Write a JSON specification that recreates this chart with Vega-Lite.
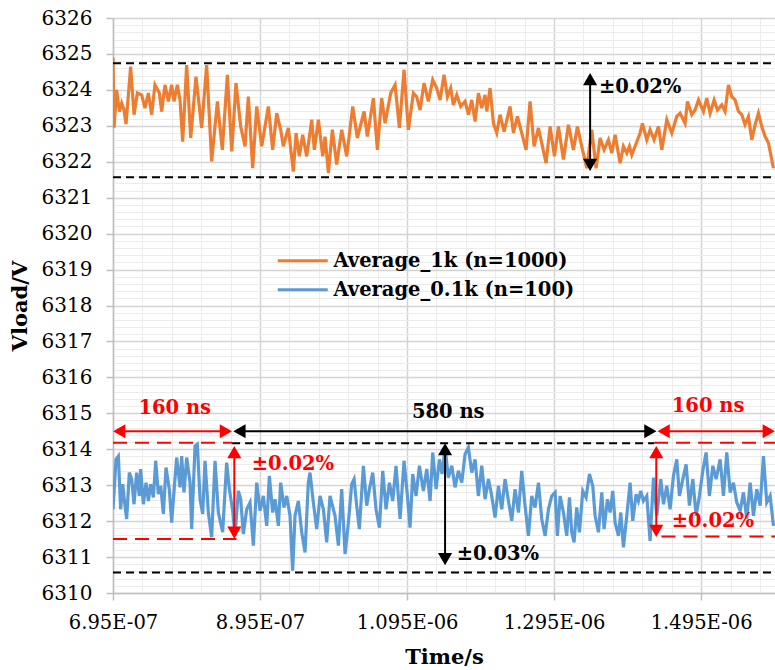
{
"$schema":"https://vega.github.io/schema/vega-lite/v6.json",
"width":662,"height":575,
"autosize":{"type":"none"},
"padding":{"left":113,"top":18,"right":0,"bottom":77},
"background":"white",
"config":{"view":{"stroke":null},"font":"DejaVu Serif"},
"resolve":{"axis":{"x":"independent","y":"independent"}},
"datasets":{
"avg1k":[
{"t":695e-9,"v":6324.9},{"t":696.4e-9,"v":6322.95},{"t":700e-9,"v":6324.0},{"t":703.6e-9,"v":6323.4},{"t":706.8e-9,"v":6323.63},{"t":710e-9,"v":6323.44},{"t":712.7e-9,"v":6323.05},{"t":719e-9,"v":6324.65},{"t":723.6e-9,"v":6323.31},{"t":728.1e-9,"v":6323.91},{"t":734e-9,"v":6323.86},{"t":738.5e-9,"v":6323.49},{"t":743.1e-9,"v":6323.91},{"t":747.6e-9,"v":6323.31},{"t":752.1e-9,"v":6324.14},{"t":758e-9,"v":6323.91},{"t":761.2e-9,"v":6323.4},{"t":765.7e-9,"v":6324.14},{"t":770.3e-9,"v":6323.68},{"t":774.8e-9,"v":6324.14},{"t":778e-9,"v":6323.68},{"t":782.5e-9,"v":6324.14},{"t":786.2e-9,"v":6323.72},{"t":789.8e-9,"v":6322.56},{"t":795.2e-9,"v":6324.69},{"t":800.7e-9,"v":6322.66},{"t":807.9e-9,"v":6324.37},{"t":815.6e-9,"v":6322.94},{"t":822.4e-9,"v":6324.69},{"t":829.2e-9,"v":6322.01},{"t":837e-9,"v":6323.68},{"t":843.7e-9,"v":6322.33},{"t":850.6e-9,"v":6324.42},{"t":856.5e-9,"v":6322.29},{"t":862.3e-9,"v":6324.19},{"t":868.7e-9,"v":6322.98},{"t":874.6e-9,"v":6322.43},{"t":879.1e-9,"v":6323.81},{"t":885e-9,"v":6321.82},{"t":890.5e-9,"v":6323.54},{"t":897.3e-9,"v":6322.43},{"t":906.3e-9,"v":6323.54},{"t":912.2e-9,"v":6322.33},{"t":917.7e-9,"v":6323.35},{"t":923.1e-9,"v":6322.89},{"t":926.7e-9,"v":6322.43},{"t":933.5e-9,"v":6322.94},{"t":940.3e-9,"v":6321.73},{"t":944e-9,"v":6322.8},{"t":948.5e-9,"v":6322.15},{"t":953e-9,"v":6322.75},{"t":958.5e-9,"v":6322.15},{"t":965.3e-9,"v":6323.17},{"t":968.9e-9,"v":6322.33},{"t":974.4e-9,"v":6323.17},{"t":980.3e-9,"v":6322.15},{"t":983.4e-9,"v":6322.7},{"t":988e-9,"v":6321.69},{"t":993.4e-9,"v":6322.89},{"t":999.3e-9,"v":6321.92},{"t":1006.1e-9,"v":6322.89},{"t":1012.9e-9,"v":6322.15},{"t":1021.1e-9,"v":6323.54},{"t":1027.4e-9,"v":6322.66},{"t":1032e-9,"v":6323.03},{"t":1036.5e-9,"v":6323.4},{"t":1041e-9,"v":6322.7},{"t":1049.2e-9,"v":6323.77},{"t":1054.6e-9,"v":6322.33},{"t":1060.5e-9,"v":6323.77},{"t":1065.1e-9,"v":6323.07},{"t":1072.8e-9,"v":6323.91},{"t":1078.7e-9,"v":6324.14},{"t":1084.6e-9,"v":6322.94},{"t":1090.9e-9,"v":6324.56},{"t":1096.8e-9,"v":6322.89},{"t":1103.6e-9,"v":6323.91},{"t":1108.1e-9,"v":6323.81},{"t":1112.7e-9,"v":6323.44},{"t":1118.1e-9,"v":6324.19},{"t":1124e-9,"v":6323.68},{"t":1129.9e-9,"v":6324.28},{"t":1135.3e-9,"v":6324.05},{"t":1139.9e-9,"v":6323.72},{"t":1145.3e-9,"v":6324.42},{"t":1149.9e-9,"v":6323.81},{"t":1154.4e-9,"v":6324.05},{"t":1158e-9,"v":6323.58},{"t":1162.6e-9,"v":6323.86},{"t":1168e-9,"v":6323.54},{"t":1173.9e-9,"v":6323.68},{"t":1178.5e-9,"v":6323.31},{"t":1183e-9,"v":6323.72},{"t":1187.5e-9,"v":6323.12},{"t":1192.1e-9,"v":6323.91},{"t":1196.6e-9,"v":6323.49},{"t":1201.1e-9,"v":6323.86},{"t":1203.4e-9,"v":6323.4},{"t":1207.9e-9,"v":6324.05},{"t":1212.5e-9,"v":6323.07},{"t":1217e-9,"v":6322.8},{"t":1221.5e-9,"v":6323.31},{"t":1227e-9,"v":6322.84},{"t":1235.1e-9,"v":6323.54},{"t":1239.7e-9,"v":6322.8},{"t":1245.1e-9,"v":6323.26},{"t":1251e-9,"v":6322.8},{"t":1256.9e-9,"v":6322.33},{"t":1262.3e-9,"v":6323.68},{"t":1267.8e-9,"v":6322.43},{"t":1273.7e-9,"v":6322.94},{"t":1278.2e-9,"v":6322.52},{"t":1284.1e-9,"v":6321.96},{"t":1289.6e-9,"v":6322.98},{"t":1295.5e-9,"v":6322.15},{"t":1300.9e-9,"v":6322.98},{"t":1307.7e-9,"v":6322.06},{"t":1314.5e-9,"v":6323.03},{"t":1321.3e-9,"v":6322.33},{"t":1326.7e-9,"v":6322.98},{"t":1332.6e-9,"v":6322.43},{"t":1339.4e-9,"v":6321.82},{"t":1346.2e-9,"v":6322.89},{"t":1352.1e-9,"v":6321.82},{"t":1357.6e-9,"v":6322.66},{"t":1363e-9,"v":6322.33},{"t":1368.9e-9,"v":6322.61},{"t":1373.5e-9,"v":6322.24},{"t":1378e-9,"v":6322.75},{"t":1384.8e-9,"v":6321.96},{"t":1389.3e-9,"v":6322.43},{"t":1393.9e-9,"v":6322.24},{"t":1397.5e-9,"v":6322.43},{"t":1400.7e-9,"v":6322.19},{"t":1405.2e-9,"v":6322.43},{"t":1412e-9,"v":6322.8},{"t":1415.2e-9,"v":6323.07},{"t":1421.1e-9,"v":6322.61},{"t":1425.6e-9,"v":6322.89},{"t":1431e-9,"v":6322.61},{"t":1437e-9,"v":6322.98},{"t":1441.5e-9,"v":6322.33},{"t":1448.3e-9,"v":6323.17},{"t":1455.1e-9,"v":6322.8},{"t":1461.9e-9,"v":6323.26},{"t":1466.4e-9,"v":6323.35},{"t":1473.2e-9,"v":6323.07},{"t":1476.4e-9,"v":6323.68},{"t":1482.3e-9,"v":6323.31},{"t":1486.8e-9,"v":6323.44},{"t":1491.4e-9,"v":6323.72},{"t":1498.2e-9,"v":6323.4},{"t":1502.7e-9,"v":6323.77},{"t":1507.2e-9,"v":6323.35},{"t":1512.7e-9,"v":6323.72},{"t":1517.2e-9,"v":6323.44},{"t":1523.1e-9,"v":6323.58},{"t":1527.6e-9,"v":6323.4},{"t":1532.2e-9,"v":6324.14},{"t":1536.7e-9,"v":6323.81},{"t":1541.2e-9,"v":6323.72},{"t":1545.8e-9,"v":6323.4},{"t":1550.3e-9,"v":6323.31},{"t":1554.8e-9,"v":6323.03},{"t":1559.4e-9,"v":6323.26},{"t":1563.9e-9,"v":6322.61},{"t":1568.5e-9,"v":6323.03},{"t":1573e-9,"v":6323.35},{"t":1577.5e-9,"v":6322.98},{"t":1582.1e-9,"v":6322.7},{"t":1586.6e-9,"v":6322.52},{"t":1593.4e-9,"v":6321.82}
],
"avg01k":[
{"t":695e-9,"v":6312.33},{"t":699.1e-9,"v":6313.72},{"t":702.3e-9,"v":6313.81},{"t":705.4e-9,"v":6312.33},{"t":708.2e-9,"v":6313.03},{"t":711.3e-9,"v":6312.43},{"t":713.6e-9,"v":6312.06},{"t":717.2e-9,"v":6313.35},{"t":720.4e-9,"v":6313.17},{"t":723.6e-9,"v":6312.47},{"t":727.2e-9,"v":6313.35},{"t":730.8e-9,"v":6312.7},{"t":732.6e-9,"v":6313.45},{"t":736.3e-9,"v":6312.47},{"t":739.9e-9,"v":6313.07},{"t":743.1e-9,"v":6312.56},{"t":746.2e-9,"v":6313.03},{"t":749.9e-9,"v":6312.66},{"t":753.1e-9,"v":6313.68},{"t":756.7e-9,"v":6312.75},{"t":759.9e-9,"v":6312.98},{"t":763.5e-9,"v":6312.2},{"t":767.1e-9,"v":6313.49},{"t":771.6e-9,"v":6312.89},{"t":774.8e-9,"v":6311.96},{"t":778.4e-9,"v":6312.94},{"t":781.6e-9,"v":6313.77},{"t":786.2e-9,"v":6312.94},{"t":788.4e-9,"v":6313.81},{"t":791.6e-9,"v":6312.8},{"t":795.2e-9,"v":6313.77},{"t":799.8e-9,"v":6313.07},{"t":802e-9,"v":6311.78},{"t":806.6e-9,"v":6314.09},{"t":809.7e-9,"v":6314.14},{"t":813.4e-9,"v":6312.61},{"t":817e-9,"v":6312.2},{"t":820.2e-9,"v":6313.68},{"t":824.7e-9,"v":6312.24},{"t":829.2e-9,"v":6311.55},{"t":833.8e-9,"v":6313.68},{"t":838.3e-9,"v":6312.24},{"t":844.2e-9,"v":6311.69},{"t":849.6e-9,"v":6313.63},{"t":853.3e-9,"v":6312.89},{"t":857.8e-9,"v":6312.29},{"t":861e-9,"v":6311.59},{"t":865.5e-9,"v":6312.84},{"t":868.7e-9,"v":6312.61},{"t":872.3e-9,"v":6311.64},{"t":876.9e-9,"v":6312.33},{"t":881.4e-9,"v":6312.52},{"t":885.9e-9,"v":6311.32},{"t":890.5e-9,"v":6313.07},{"t":895e-9,"v":6312.29},{"t":899.5e-9,"v":6312.7},{"t":904.1e-9,"v":6311.87},{"t":907.7e-9,"v":6313.26},{"t":912.2e-9,"v":6312.24},{"t":915.4e-9,"v":6312.61},{"t":919.9e-9,"v":6311.87},{"t":923.1e-9,"v":6313.07},{"t":927.6e-9,"v":6312.38},{"t":931.3e-9,"v":6312.7},{"t":935.8e-9,"v":6312.15},{"t":939.4e-9,"v":6310.62},{"t":942.6e-9,"v":6312.15},{"t":947.1e-9,"v":6312.56},{"t":951.7e-9,"v":6311.69},{"t":956.2e-9,"v":6311.13},{"t":960.7e-9,"v":6313.07},{"t":963e-9,"v":6313.35},{"t":967.5e-9,"v":6312.52},{"t":972.1e-9,"v":6311.78},{"t":976.6e-9,"v":6312.7},{"t":981.2e-9,"v":6312.33},{"t":985.7e-9,"v":6311.41},{"t":990.2e-9,"v":6312.7},{"t":997e-9,"v":6312.15},{"t":1001.6e-9,"v":6311.32},{"t":1006.1e-9,"v":6312.89},{"t":1010.7e-9,"v":6311.08},{"t":1015.2e-9,"v":6311.96},{"t":1019.7e-9,"v":6313.03},{"t":1022.9e-9,"v":6313.17},{"t":1026.5e-9,"v":6312.43},{"t":1030.1e-9,"v":6311.78},{"t":1035.6e-9,"v":6313.54},{"t":1040.1e-9,"v":6312.43},{"t":1043.8e-9,"v":6312.89},{"t":1048.3e-9,"v":6313.35},{"t":1052.8e-9,"v":6312.33},{"t":1057.4e-9,"v":6311.82},{"t":1061.9e-9,"v":6313.4},{"t":1066.4e-9,"v":6312.33},{"t":1071e-9,"v":6313.07},{"t":1075.5e-9,"v":6312.56},{"t":1080e-9,"v":6313.54},{"t":1085.5e-9,"v":6312.06},{"t":1090.9e-9,"v":6313.68},{"t":1095.5e-9,"v":6312.7},{"t":1099.1e-9,"v":6311.82},{"t":1102.7e-9,"v":6313.31},{"t":1107.2e-9,"v":6312.7},{"t":1111.8e-9,"v":6313.54},{"t":1117.2e-9,"v":6312.84},{"t":1121.8e-9,"v":6313.45},{"t":1126.3e-9,"v":6312.56},{"t":1129.9e-9,"v":6313.91},{"t":1134.5e-9,"v":6312.89},{"t":1139e-9,"v":6313.72},{"t":1142.6e-9,"v":6313.31},{"t":1146.7e-9,"v":6314.05},{"t":1151.2e-9,"v":6313.21},{"t":1155.8e-9,"v":6313.54},{"t":1160.3e-9,"v":6312.94},{"t":1164.8e-9,"v":6313.4},{"t":1169.4e-9,"v":6313.07},{"t":1173.9e-9,"v":6313.86},{"t":1178.4e-9,"v":6314.05},{"t":1183e-9,"v":6313.35},{"t":1187.5e-9,"v":6313.72},{"t":1192e-9,"v":6312.7},{"t":1196.6e-9,"v":6313.54},{"t":1201.1e-9,"v":6312.61},{"t":1205.7e-9,"v":6313.17},{"t":1210.2e-9,"v":6312.7},{"t":1214.7e-9,"v":6312.1},{"t":1219.3e-9,"v":6312.98},{"t":1223.8e-9,"v":6312.33},{"t":1228.3e-9,"v":6313.17},{"t":1232.9e-9,"v":6312.56},{"t":1237.4e-9,"v":6312.01},{"t":1241.9e-9,"v":6312.89},{"t":1246.5e-9,"v":6312.24},{"t":1251e-9,"v":6313.4},{"t":1255.5e-9,"v":6312.43},{"t":1260.1e-9,"v":6311.59},{"t":1264.6e-9,"v":6312.7},{"t":1269.1e-9,"v":6312.38},{"t":1273.7e-9,"v":6313.07},{"t":1278.2e-9,"v":6312.06},{"t":1282.8e-9,"v":6311.59},{"t":1287.3e-9,"v":6312.33},{"t":1291.8e-9,"v":6312.7},{"t":1296.4e-9,"v":6312.8},{"t":1299.5e-9,"v":6311.59},{"t":1303.2e-9,"v":6312.7},{"t":1307.7e-9,"v":6312.24},{"t":1312.2e-9,"v":6311.59},{"t":1315.9e-9,"v":6312.66},{"t":1319e-9,"v":6311.69},{"t":1322.2e-9,"v":6311.41},{"t":1325.8e-9,"v":6312.38},{"t":1329.5e-9,"v":6311.69},{"t":1334e-9,"v":6312.84},{"t":1338.5e-9,"v":6312.66},{"t":1343.1e-9,"v":6313.31},{"t":1347.6e-9,"v":6312.98},{"t":1350.8e-9,"v":6312.15},{"t":1355.3e-9,"v":6311.69},{"t":1359.9e-9,"v":6312.8},{"t":1363e-9,"v":6311.78},{"t":1367.6e-9,"v":6312.61},{"t":1371.2e-9,"v":6312.24},{"t":1374.8e-9,"v":6312.84},{"t":1378e-9,"v":6311.96},{"t":1382.5e-9,"v":6311.59},{"t":1385.7e-9,"v":6312.24},{"t":1389.3e-9,"v":6311.27},{"t":1393.9e-9,"v":6312.15},{"t":1398.4e-9,"v":6313.07},{"t":1402e-9,"v":6312.01},{"t":1406.6e-9,"v":6312.75},{"t":1409.7e-9,"v":6312.56},{"t":1412.9e-9,"v":6312.84},{"t":1416.5e-9,"v":6312.56},{"t":1421.1e-9,"v":6312.7},{"t":1425.6e-9,"v":6311.45},{"t":1430.2e-9,"v":6313.21},{"t":1434.7e-9,"v":6312.15},{"t":1440.1e-9,"v":6313.17},{"t":1443.8e-9,"v":6312.47},{"t":1448.3e-9,"v":6312.98},{"t":1452.8e-9,"v":6312.33},{"t":1457.4e-9,"v":6313.26},{"t":1461.9e-9,"v":6313.72},{"t":1465.5e-9,"v":6312.7},{"t":1470.1e-9,"v":6313.17},{"t":1474.6e-9,"v":6313.58},{"t":1479.1e-9,"v":6312.43},{"t":1483.7e-9,"v":6313.17},{"t":1488.2e-9,"v":6312.15},{"t":1492.7e-9,"v":6312.7},{"t":1497.3e-9,"v":6313.4},{"t":1501.8e-9,"v":6313.91},{"t":1506.3e-9,"v":6312.7},{"t":1510.9e-9,"v":6313.54},{"t":1515.4e-9,"v":6313.17},{"t":1520.9e-9,"v":6313.72},{"t":1525.4e-9,"v":6312.7},{"t":1529.9e-9,"v":6313.91},{"t":1534.5e-9,"v":6312.8},{"t":1539e-9,"v":6313.07},{"t":1543.5e-9,"v":6312.52},{"t":1548.1e-9,"v":6312.29},{"t":1552.6e-9,"v":6312.8},{"t":1557.1e-9,"v":6312.06},{"t":1561.7e-9,"v":6313.07},{"t":1566.2e-9,"v":6312.15},{"t":1570.7e-9,"v":6312.89},{"t":1575.3e-9,"v":6312.43},{"t":1579.8e-9,"v":6313.81},{"t":1584.3e-9,"v":6312.52},{"t":1588.9e-9,"v":6312.7},{"t":1593.4e-9,"v":6311.87}
],
"dashes":[
{"t":695e-9,"t2":1595.5e-9,"v":6324.74,"grp":"black"},
{"t":695e-9,"t2":1595.5e-9,"v":6321.57,"grp":"black"},
{"t":857e-9,"t2":1431e-9,"v":6314.17,"grp":"black"},
{"t":695e-9,"t2":1595.5e-9,"v":6310.57,"grp":"black"},
{"t":695e-9,"t2":857e-9,"v":6314.18,"grp":"red"},
{"t":1431e-9,"t2":1595.5e-9,"v":6314.18,"grp":"red"},
{"t":695e-9,"t2":863e-9,"v":6311.5,"grp":"red"},
{"t":1441e-9,"t2":1595.5e-9,"v":6311.57,"grp":"red"}
],
"shafts":[
{"t":1344e-9,"t2":1344e-9,"v":6324.35,"v2":6321.85,"grp":"black"},
{"t":698e-9,"t2":852e-9,"v":6314.5,"v2":6314.5,"grp":"red"},
{"t":862e-9,"t2":1430e-9,"v":6314.5,"v2":6314.5,"grp":"black"},
{"t":1439e-9,"t2":1592e-9,"v":6314.5,"v2":6314.5,"grp":"red"},
{"t":860e-9,"t2":860e-9,"v":6314.0,"v2":6311.6,"grp":"red"},
{"t":1146.7e-9,"t2":1146.7e-9,"v":6314.05,"v2":6310.85,"grp":"black"},
{"t":1434e-9,"t2":1434e-9,"v":6314.0,"v2":6311.65,"grp":"red"}
],
"heads":[
{"t":1344e-9,"v":6324.3,"dir":"up","grp":"black"},
{"t":1344e-9,"v":6321.91,"dir":"down","grp":"black"},
{"t":703.5e-9,"v":6314.5,"dir":"left","grp":"red"},
{"t":848.5e-9,"v":6314.5,"dir":"right","grp":"red"},
{"t":867e-9,"v":6314.5,"dir":"left","grp":"black"},
{"t":1426e-9,"v":6314.5,"dir":"right","grp":"black"},
{"t":1444e-9,"v":6314.5,"dir":"left","grp":"red"},
{"t":1587e-9,"v":6314.5,"dir":"right","grp":"red"},
{"t":860e-9,"v":6313.92,"dir":"up","grp":"red"},
{"t":860e-9,"v":6311.68,"dir":"down","grp":"red"},
{"t":1146.7e-9,"v":6314.0,"dir":"up","grp":"black"},
{"t":1146.7e-9,"v":6310.94,"dir":"down","grp":"black"},
{"t":1434e-9,"v":6313.92,"dir":"up","grp":"red"},
{"t":1434e-9,"v":6311.73,"dir":"down","grp":"red"}
],
"spanlabels":[
{"t":779e-9,"v":6315.15,"text":"160 ns","grp":"red"},
{"t":1151e-9,"v":6315.03,"text":"580 ns","grp":"black"},
{"t":1504.5e-9,"v":6315.19,"text":"160 ns","grp":"red"}
],
"tollabels":[
{"t":1356e-9,"v":6324.08,"text":"±0.02%","grp":"black"},
{"t":883.7e-9,"v":6313.58,"text":"±0.02%","grp":"red"},
{"t":1162.6e-9,"v":6311.08,"text":"±0.03%","grp":"black"},
{"t":1455e-9,"v":6312.01,"text":"±0.02%","grp":"red"}
]
},
"layer":[
{"data":{"name":"avg1k"},"mark":{"type":"line","strokeWidth":3.2,"clip":true},
"encoding":{
"x":{"field":"t","type":"quantitative","scale":{"domain":[6.95e-7,1.5955e-6],"nice":false,"zero":false},
 "axis":{"orient":"bottom","title":"Time/s","values":[6.95e-7,8.95e-7,1.095e-6,1.295e-6,1.495e-6],
 "labelExpr":"replace(format(datum.value,'.3~e'),'e-','E-0')",
 "gridColor":"#d4d4d4","gridWidth":1.5,
 "tickSize":7,"tickColor":"#bfbfbf","tickWidth":1.5,"domainColor":"#bfbfbf","domainWidth":1.5,
 "labelFont":"DejaVu Serif","labelFontSize":19.5,"labelColor":"#000","labelPadding":13,"labelOverlap":false,"labelFlush":false,
 "titleFont":"DejaVu Serif","titleFontSize":21,"titleFontWeight":"bold","titleColor":"#000","titlePadding":15,"zindex":0}},
"y":{"field":"v","type":"quantitative","scale":{"domain":[6310,6326],"nice":false,"zero":false},
 "axis":{"orient":"left","title":"Vload/V","values":[6310,6311,6312,6313,6314,6315,6316,6317,6318,6319,6320,6321,6322,6323,6324,6325,6326],
 "format":"d","gridColor":"#d4d4d4","gridWidth":1.5,
 "tickSize":7,"tickColor":"#bfbfbf","tickWidth":1.5,"domainColor":"#bfbfbf","domainWidth":1.5,
 "labelFont":"DejaVu Serif","labelFontSize":20,"labelColor":"#000","labelPadding":14,"labelOverlap":false,"labelFlush":false,
 "titleFont":"DejaVu Serif","titleFontSize":21,"titleFontWeight":"bold","titleColor":"#000","titlePadding":11,"zindex":0}},
"color":{"datum":"Average_1k (n=1000)","scale":{"domain":["Average_1k (n=1000)","Average_0.1k (n=100)"],"range":["#ED7D31","#5B9BD5"]},
 "legend":{"orient":"none","legendX":180,"legendY":233,"title":null,"symbolType":"M-5,0H5","symbolSize":100,"symbolStrokeWidth":3,
 "labelFont":"DejaVu Serif","labelFontSize":19.5,"labelFontWeight":"bold","labelColor":"#000","labelOffset":21,"rowPadding":8,"padding":0,"labelLimit":500}}
}},
{"data":{"name":"avg01k"},"mark":{"type":"line","strokeWidth":3.2,"clip":true},
"encoding":{
"x":{"field":"t","type":"quantitative","axis":{"orient":"bottom","title":null,"values":[7.35e-7,7.75e-7,8.15e-7,8.55e-7,9.35e-7,9.75e-7,1.015e-6,1.055e-6,1.135e-6,1.175e-6,1.215e-6,1.255e-6,1.335e-6,1.375e-6,1.415e-6,1.455e-6,1.535e-6,1.575e-6],"labels":false,"ticks":false,"domain":false,"grid":true,"gridColor":"#ececec","gridWidth":1,"zindex":0}},
"y":{"field":"v","type":"quantitative","axis":{"orient":"left","title":null,"values":[6310.2,6310.4,6310.6,6310.8,6311.2,6311.4,6311.6,6311.8,6312.2,6312.4,6312.6,6312.8,6313.2,6313.4,6313.6,6313.8,6314.2,6314.4,6314.6,6314.8,6315.2,6315.4,6315.6,6315.8,6316.2,6316.4,6316.6,6316.8,6317.2,6317.4,6317.6,6317.8,6318.2,6318.4,6318.6,6318.8,6319.2,6319.4,6319.6,6319.8,6320.2,6320.4,6320.6,6320.8,6321.2,6321.4,6321.6,6321.8,6322.2,6322.4,6322.6,6322.8,6323.2,6323.4,6323.6,6323.8,6324.2,6324.4,6324.6,6324.8,6325.2,6325.4,6325.6,6325.8],"labels":false,"ticks":false,"domain":false,"grid":true,"gridColor":"#ececec","gridWidth":1,"zindex":0}},
"color":{"datum":"Average_0.1k (n=100)"}}},
{"data":{"name":"dashes"},"mark":{"type":"rule","strokeWidth":2},
"encoding":{"x":{"field":"t","type":"quantitative","axis":null},"x2":{"field":"t2"},"y":{"field":"v","type":"quantitative","axis":null},
 "color":{"condition":{"test":"datum.grp=='red'","value":"#FF0000"},"value":"#000000"},
 "strokeDash":{"condition":{"test":"datum.grp=='red'","value":[14,8]},"value":[8,5]}}},
{"data":{"name":"shafts"},"mark":{"type":"rule","strokeWidth":2},
"encoding":{"x":{"field":"t","type":"quantitative","axis":null},"x2":{"field":"t2"},"y":{"field":"v","type":"quantitative","axis":null},"y2":{"field":"v2"},
 "color":{"condition":{"test":"datum.grp=='red'","value":"#FF0000"},"value":"#000000"}}},
{"data":{"name":"heads"},"mark":{"type":"point","filled":true,"size":200,"opacity":1,"strokeWidth":0},
"encoding":{"x":{"field":"t","type":"quantitative","axis":null},"y":{"field":"v","type":"quantitative","axis":null},
 "shape":{"condition":[{"test":"datum.dir=='up'","value":"triangle-up"},{"test":"datum.dir=='down'","value":"triangle-down"},{"test":"datum.dir=='left'","value":"triangle-left"}],"value":"triangle-right"},
 "color":{"condition":{"test":"datum.grp=='red'","value":"#FF0000"},"value":"#000000"}}},
{"data":{"name":"spanlabels"},"mark":{"type":"text","font":"DejaVu Serif","fontSize":19.5,"fontWeight":"bold","align":"center","baseline":"middle"},
"encoding":{"x":{"field":"t","type":"quantitative","axis":null},"y":{"field":"v","type":"quantitative","axis":null},"text":{"field":"text"},
 "color":{"condition":{"test":"datum.grp=='red'","value":"#FF0000"},"value":"#000000"}}},
{"data":{"name":"tollabels"},"mark":{"type":"text","font":"DejaVu Serif","fontSize":19.5,"fontWeight":"bold","align":"left","baseline":"middle"},
"encoding":{"x":{"field":"t","type":"quantitative","axis":null},"y":{"field":"v","type":"quantitative","axis":null},"text":{"field":"text"},
 "color":{"condition":{"test":"datum.grp=='red'","value":"#FF0000"},"value":"#000000"}}}
]
}
